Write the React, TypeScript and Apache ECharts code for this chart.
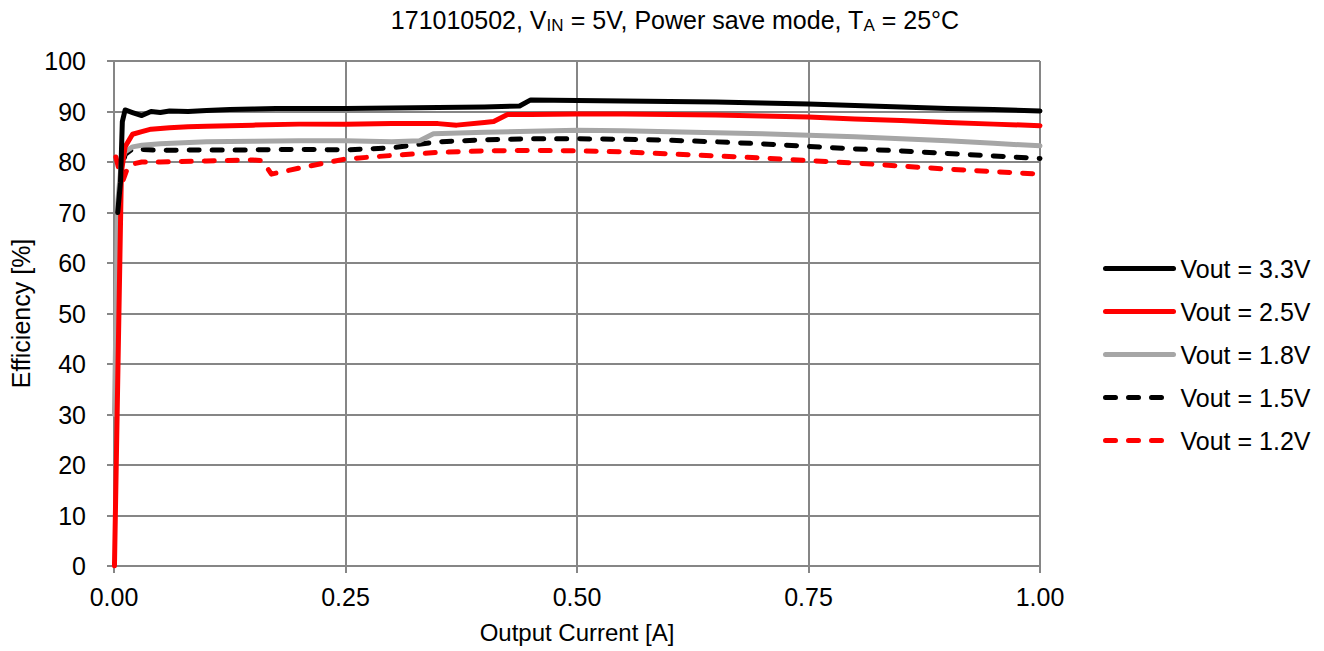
import React, { useEffect, useRef } from "react";
import * as echarts from "echarts";

const seriesNames = ["Vout = 3.3V", "Vout = 2.5V", "Vout = 1.8V", "Vout = 1.5V", "Vout = 1.2V"];

const x33 = [0.004, 0.007, 0.009, 0.012, 0.02, 0.03, 0.04, 0.05, 0.06, 0.08, 0.1, 0.125, 0.15, 0.175, 0.2, 0.25, 0.3, 0.35, 0.4, 0.438, 0.45, 0.5, 0.55, 0.6, 0.65, 0.7, 0.75, 0.8, 0.85, 0.9, 0.95, 1.0];
const y33 = [70, 76, 88, 90.3, 89.8, 89.2, 90.0, 89.8, 90.1, 90.0, 90.2, 90.4, 90.5, 90.6, 90.6, 90.6, 90.7, 90.8, 90.9, 91.1, 92.3, 92.2, 92.1, 92.0, 91.9, 91.7, 91.5, 91.2, 90.9, 90.6, 90.4, 90.1];

const x25 = [0.0005, 0.008, 0.012, 0.02, 0.03, 0.04, 0.06, 0.08, 0.1, 0.15, 0.2, 0.25, 0.3, 0.35, 0.37, 0.4, 0.41, 0.425, 0.45, 0.5, 0.55, 0.6, 0.65, 0.7, 0.75, 0.8, 0.85, 0.9, 0.95, 1.0];
const y25 = [0, 78, 83, 85.5, 86, 86.5, 86.8, 87, 87.1, 87.3, 87.5, 87.5, 87.6, 87.6, 87.3, 87.8, 88, 89.4, 89.4, 89.5, 89.5, 89.4, 89.3, 89.1, 88.9, 88.5, 88.2, 87.8, 87.5, 87.2];

const x18 = [0.0005, 0.004, 0.008, 0.012, 0.02, 0.03, 0.05, 0.1, 0.15, 0.2, 0.25, 0.3, 0.33, 0.345, 0.4, 0.45, 0.5, 0.55, 0.6, 0.65, 0.7, 0.75, 0.8, 0.85, 0.9, 0.95, 1.0];
const y18 = [30, 72, 80, 82, 83, 83.3, 83.6, 84, 84.1, 84.2, 84.2, 84, 84.2, 85.6, 85.9, 86.1, 86.3, 86.2, 86.0, 85.8, 85.6, 85.3, 85.0, 84.6, 84.2, 83.7, 83.2];

const x15 = [0.002, 0.005, 0.008, 0.012, 0.02, 0.03, 0.05, 0.1, 0.15, 0.2, 0.25, 0.3, 0.35, 0.4, 0.45, 0.5, 0.55, 0.6, 0.65, 0.7, 0.75, 0.8, 0.85, 0.9, 0.95, 1.0];
const y15 = [40, 65, 78, 81.5, 82.6, 82.5, 82.3, 82.4, 82.4, 82.5, 82.4, 82.8, 84, 84.4, 84.6, 84.6, 84.5, 84.3, 84, 83.6, 83.1, 82.6, 82.2, 81.7, 81.2, 80.7];

const x12 = [0.002, 0.006, 0.01, 0.015, 0.02, 0.03, 0.05, 0.1, 0.15, 0.16, 0.17, 0.2, 0.25, 0.3, 0.35, 0.4, 0.45, 0.5, 0.55, 0.6, 0.65, 0.7, 0.75, 0.8, 0.85, 0.9, 0.95, 1.0];
const y12 = [81, 78, 76.5, 79, 79.6, 80, 80, 80.2, 80.4, 80.3, 77.6, 78.8, 80.6, 81.3, 81.9, 82.2, 82.3, 82.2, 82, 81.6, 81.2, 80.8, 80.3, 79.8, 79.2, 78.6, 78.1, 77.6];

const xTickLabels = ["0.00", "0.25", "0.50", "0.75", "1.00"];

const FONT = "Liberation Sans, Arial, sans-serif";

function pairs(xs: number[], ys: number[]) {
  return xs.map((x, i) => [x, ys[i]]);
}

export default function App() {
  const ref = useRef<HTMLDivElement>(null);
  useEffect(() => {
    if (!ref.current) return;
    const chart = echarts.init(ref.current, null, { renderer: "svg" });
    const dash = [10, 13];
    const styles: any[] = [
      { color: "#000000", type: "solid" },
      { color: "#ff0000", type: "solid" },
      { color: "#a6a6a6", type: "solid" },
      { color: "#000000", type: dash },
      { color: "#ff0000", type: dash },
    ];
    const datas = [pairs(x33, y33), pairs(x25, y25), pairs(x18, y18), pairs(x15, y15), pairs(x12, y12)];
    chart.setOption({
      animation: false,
      backgroundColor: "#ffffff",
      textStyle: { fontFamily: FONT },
      title: {
        text: "{n|171010502, V}{sub|IN}{n| = 5V, Power save mode, T}{sub|A}{n| = 25°C}",
        left: 670,
        textAlign: "center",
        top: 0,
        textStyle: {
          fontFamily: FONT,
          fontSize: 25,
          fontWeight: "normal",
          color: "#000",
          rich: {
            n: { fontFamily: FONT, fontSize: 25, color: "#000" },
            sub: { fontFamily: FONT, fontSize: 17, color: "#000", verticalAlign: "bottom", padding: [12, 0, 0, 0] },
          },
        },
      },
      legend: {
        orient: "vertical",
        left: 1098,
        top: 251,
        itemWidth: 68,
        itemHeight: 14,
        itemGap: 18,
        itemStyle: { opacity: 0 },
        textStyle: { fontFamily: FONT, fontSize: 25, color: "#000", padding: [0, 0, 0, 2] },
        data: seriesNames.map((name, i) => ({
          name,
          lineStyle: { color: styles[i].color, width: 5, type: styles[i].type, cap: "round", opacity: 1 },
        })),
      },
      grid: { left: 114, right: 284, top: 61, bottom: 85, containLabel: false, outerBoundsMode: "none" },
      xAxis: {
        type: "value",
        min: 0,
        max: 1,
        interval: 0.25,
        name: "Output Current [A]",
        nameLocation: "middle",
        nameGap: 54,
        nameTextStyle: { fontFamily: FONT, fontSize: 24, color: "#000" },
        axisLine: { show: true, lineStyle: { color: "#868686", width: 2 } },
        axisTick: { show: true, length: 7, lineStyle: { color: "#868686", width: 2 } },
        axisLabel: {
          fontFamily: FONT,
          fontSize: 25,
          color: "#000",
          margin: 18,
          formatter: (v: number) => xTickLabels[Math.round(v / 0.25)] ?? v.toFixed(2),
        },
        splitLine: { show: true, lineStyle: { color: "#868686", width: 2 } },
      },
      yAxis: {
        type: "value",
        min: 0,
        max: 100,
        interval: 10,
        name: "Efficiency [%]",
        nameLocation: "middle",
        nameGap: 78,
        nameTextStyle: { fontFamily: FONT, fontSize: 25, color: "#000" },
        axisLine: { show: true, lineStyle: { color: "#868686", width: 2 } },
        axisTick: { show: true, length: 7, lineStyle: { color: "#868686", width: 2 } },
        axisLabel: { fontFamily: FONT, fontSize: 25, color: "#000", margin: 28 },
        splitLine: { show: true, lineStyle: { color: "#868686", width: 2 } },
      },
      series: seriesNames.map((name, i) => ({
        name,
        type: "line",
        data: datas[i],
        symbol: "none",
        showSymbol: false,
        smooth: false,
        color: styles[i].color,
        lineStyle: { color: styles[i].color, width: 5, type: styles[i].type, cap: "round", join: "round" },
        z: 10 - i,
      })),
    });
    return () => chart.dispose();
  }, []);
  return <div ref={ref} style={{ width: 1324, height: 651, position: "absolute", left: 0, top: 0 }} />;
}
